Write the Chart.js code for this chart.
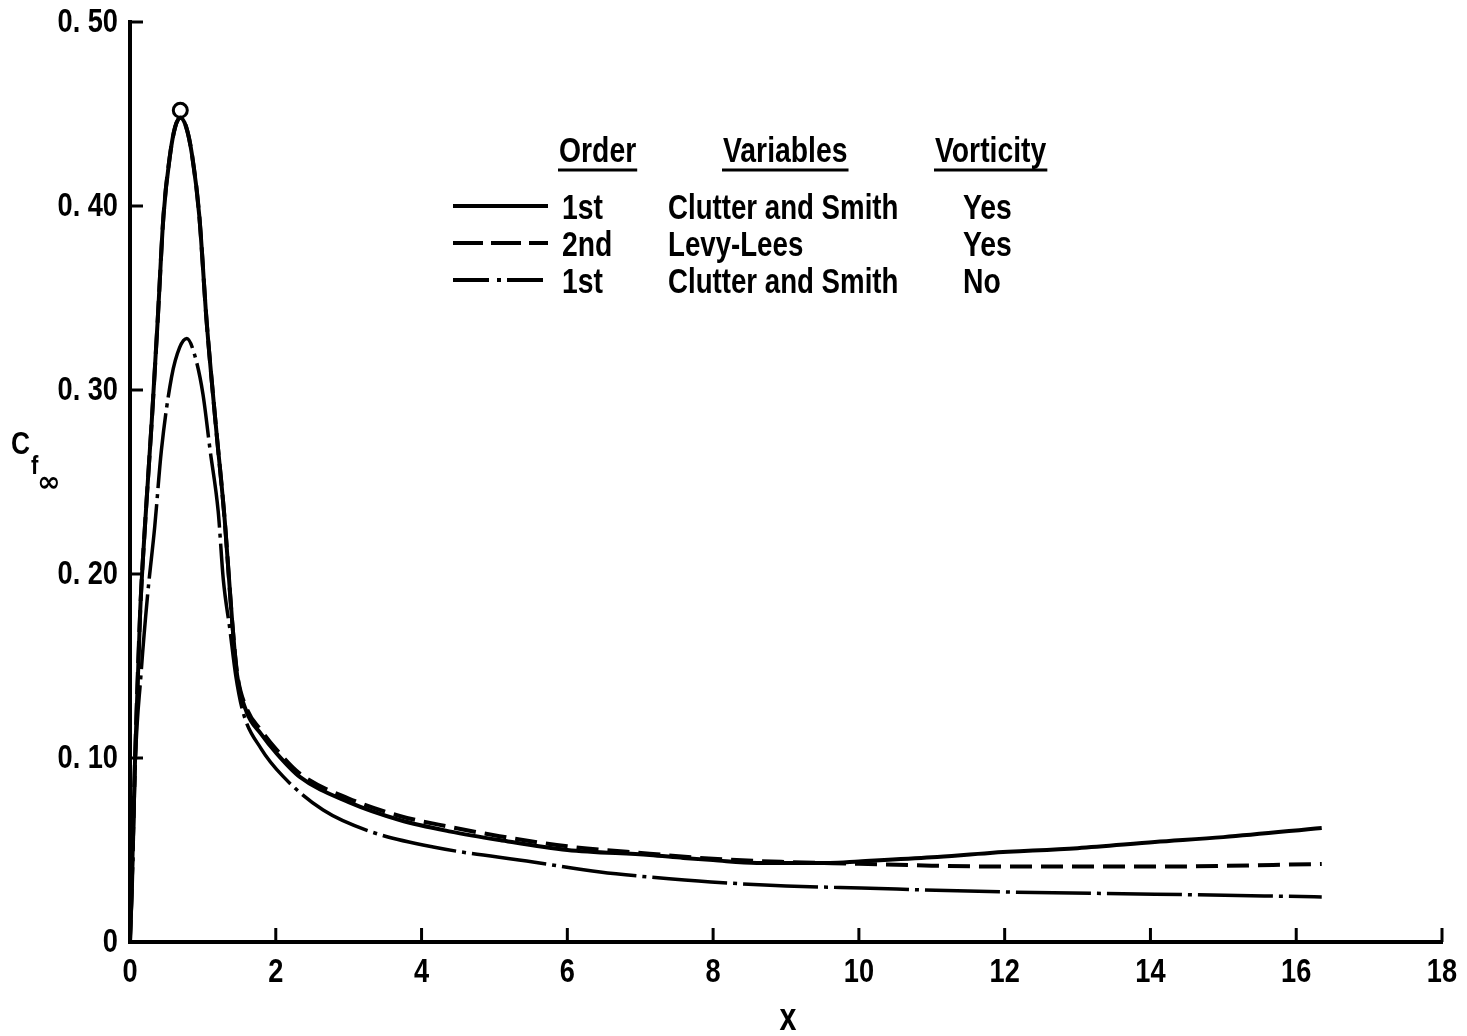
<!DOCTYPE html>
<html>
<head>
<meta charset="utf-8">
<script src="https://cdn.jsdelivr.net/npm/chart.js@4.4.0/dist/chart.umd.min.js"></script>
<style>
  body { margin: 0; background: #fff; }
</style>
</head>
<body>
<canvas id="chart" width="1467" height="1036"></canvas>
<script>
// x positions and skin-friction values
const xSolid = [0, 0.02, 0.07, 0.14, 0.21, 0.30, 0.38, 0.46, 0.55, 0.62, 0.69, 0.77, 0.85, 0.95, 1.05, 1.17, 1.30, 1.40, 1.47, 1.6, 1.8, 2.0, 2.33, 3.0, 3.7, 4.4, 5.07, 6.0, 7.13, 7.59, 8.0, 8.6, 9.6, 10.0, 11.0, 11.8, 13.0, 14.06, 15.0, 16.35];
const ySolid = [0, 0.025, 0.10, 0.18, 0.229, 0.284, 0.338, 0.395, 0.428, 0.443, 0.448, 0.443, 0.428, 0.395, 0.338, 0.284, 0.229, 0.175, 0.145, 0.125, 0.113, 0.103, 0.0897, 0.076, 0.0663, 0.060, 0.0554, 0.050, 0.0473, 0.0457, 0.0445, 0.043, 0.043, 0.0438, 0.046, 0.0484, 0.051, 0.0543, 0.057, 0.062];

const xDashed = [0, 0.02, 0.07, 0.14, 0.21, 0.30, 0.38, 0.46, 0.55, 0.62, 0.69, 0.77, 0.85, 0.95, 1.05, 1.17, 1.30, 1.40, 1.47, 1.6, 1.8, 2.0, 2.33, 3.0, 3.7, 4.4, 5.07, 6.0, 7.13, 8.0, 9.0, 10.0, 11.0, 12.0, 14.06, 16.35];
const yDashed = [0, 0.025, 0.10, 0.18, 0.229, 0.284, 0.338, 0.395, 0.428, 0.443, 0.448, 0.443, 0.428, 0.395, 0.338, 0.284, 0.229, 0.175, 0.146, 0.127, 0.115, 0.105, 0.0915, 0.078, 0.0685, 0.0625, 0.0575, 0.052, 0.048, 0.0452, 0.0435, 0.0425, 0.0415, 0.041, 0.041, 0.0424];

const xDashDot = [0, 0.03, 0.07, 0.15, 0.24, 0.34, 0.43, 0.57, 0.68, 0.78, 0.88, 1.0, 1.10, 1.21, 1.28, 1.37, 1.45, 1.55, 1.8, 2.1, 2.65, 3.3, 4.16, 5.53, 6.45, 7.13, 7.97, 9.0, 10.03, 12.0, 14.06, 16.35];
const yDashDot = [0, 0.03, 0.095, 0.145, 0.188, 0.226, 0.267, 0.307, 0.323, 0.328, 0.320, 0.298, 0.267, 0.234, 0.197, 0.170, 0.145, 0.125, 0.105, 0.09, 0.0717, 0.06, 0.0516, 0.0435, 0.038, 0.0353, 0.0326, 0.0305, 0.0293, 0.0272, 0.026, 0.0245];

// open circle at the top of the peak
const peakMarkX = [0.69];
const peakMarkY = [0.452];

const legendOrder = ["1st", "2nd", "1st"];
const legendVariables = ["Clutter and Smith", "Levy-Lees", "Clutter and Smith"];
const legendVorticity = ["Yes", "Yes", "No"];

const FONT = "'Liberation Sans', Arial, sans-serif";
const NARROW = 0.8; // the original lettering is condensed

const toPoints = (xs, ys) => xs.map((x, i) => ({ x: x, y: ys[i] }));

// draw horizontally squeezed bold text
function squeezed(ctx, text, x, y, size, align, sx) {
  ctx.save();
  ctx.font = "bold " + size + "px " + FONT;
  const w = ctx.measureText(text).width * sx;
  let left = x;
  if (align === "right") left = x - w;
  if (align === "center") left = x - w / 2;
  ctx.translate(left, y);
  ctx.scale(sx, 1);
  ctx.textAlign = "left";
  ctx.fillText(text, 0, 0);
  ctx.restore();
  return w;
}

const yLabel = (v) => (v === 0 ? "0" : "0. " + String(Math.round(v * 100)).padStart(2, "0"));

// inward ticks and tick labels, placed from the library's scales
const axisDecor = {
  id: "axisDecor",
  afterDraw(chart) {
    const ctx = chart.ctx;
    const xs = chart.scales.x;
    const ys = chart.scales.y;
    ctx.save();
    ctx.strokeStyle = "#000";
    ctx.fillStyle = "#000";
    ctx.lineWidth = 3;
    ctx.textBaseline = "middle";
    ys.ticks.forEach((t) => {
      const py = ys.getPixelForValue(t.value);
      if (t.value !== 0) {
        ctx.beginPath();
        ctx.moveTo(xs.left, py);
        ctx.lineTo(xs.left + 13, py);
        ctx.stroke();
      }
      squeezed(ctx, yLabel(t.value), 118, py + 1, 34, "right", NARROW);
    });
    xs.ticks.forEach((t) => {
      const px = xs.getPixelForValue(t.value);
      if (t.value !== 0) {
        ctx.beginPath();
        ctx.moveTo(px, ys.bottom);
        ctx.lineTo(px, ys.bottom - 14);
        ctx.stroke();
      }
      squeezed(ctx, String(t.value), px, 973, 34, "center", NARROW);
    });
    ctx.restore();
  },
};

// axis titles and the table-style legend
const annotations = {
  id: "annotations",
  afterDraw(chart) {
    const ctx = chart.ctx;
    ctx.save();
    ctx.fillStyle = "#000";
    ctx.strokeStyle = "#000";
    ctx.textBaseline = "alphabetic";

    // y title C_f∞
    squeezed(ctx, "C", 11, 454, 31, "left", 0.85);
    squeezed(ctx, "f", 31, 474, 26, "left", 0.85);
    ctx.font = "bold 28px 'DejaVu Sans', sans-serif";
    ctx.fillText("\u221E", 37, 491);

    // x title
    squeezed(ctx, "x", 788, 1030, 38, "center", NARROW);

    // legend headers
    const headers = [["Order", 559], ["Variables", 723], ["Vorticity", 935]];
    headers.forEach(([txt, hx]) => {
      const w = squeezed(ctx, txt, hx, 162, 35, "left", 0.81);
      ctx.lineWidth = 3;
      ctx.beginPath();
      ctx.moveTo(hx - 1, 170);
      ctx.lineTo(hx + w + 1, 170);
      ctx.stroke();
    });

    // legend rows
    const rowY = [206, 243, 280];
    const dashes = [[], [30, 8], [36, 8, 4, 6]];
    rowY.forEach((ry, i) => {
      ctx.lineWidth = 4;
      ctx.setLineDash(dashes[i]);
      ctx.beginPath();
      ctx.moveTo(453, ry);
      ctx.lineTo(548, ry);
      ctx.stroke();
      ctx.setLineDash([]);
      squeezed(ctx, legendOrder[i], 562, ry + 13, 35, "left", 0.81);
      squeezed(ctx, legendVariables[i], 668, ry + 13, 35, "left", 0.79);
      squeezed(ctx, legendVorticity[i], 963, ry + 13, 35, "left", 0.81);
    });
    ctx.restore();
  },
};

new Chart(document.getElementById("chart"), {
  type: "line",
  data: {
    datasets: [
      {
        label: "1st Clutter and Smith Yes",
        data: toPoints(xSolid, ySolid),
        borderColor: "#000",
        borderWidth: 4,
        pointRadius: 0,
        cubicInterpolationMode: "monotone",
      },
      {
        label: "2nd Levy-Lees Yes",
        data: toPoints(xDashed, yDashed),
        borderColor: "#000",
        borderWidth: 4,
        borderDash: [22, 9],
        pointRadius: 0,
        cubicInterpolationMode: "monotone",
      },
      {
        label: "1st Clutter and Smith No",
        data: toPoints(xDashDot, yDashDot),
        borderColor: "#000",
        borderWidth: 3.5,
        borderDash: [75, 6, 4, 6],
        pointRadius: 0,
        cubicInterpolationMode: "monotone",
      },
      {
        label: "peak",
        type: "scatter",
        data: toPoints(peakMarkX, peakMarkY),
        borderColor: "#000",
        backgroundColor: "#fff",
        borderWidth: 3,
        pointRadius: 7,
      },
    ],
  },
  options: {
    responsive: false,
    animation: false,
    layout: { padding: { top: 22, right: 25, left: 0, bottom: 0 } },
    plugins: {
      legend: { display: false },
      tooltip: { enabled: false },
    },
    scales: {
      x: {
        type: "linear",
        min: 0,
        max: 18,
        ticks: { stepSize: 2, display: false },
        grid: { display: false, drawTicks: false },
        border: { display: true, color: "#000", width: 4 },
        afterFit(scale) {
          scale.height = 94;
        },
      },
      y: {
        type: "linear",
        min: 0,
        max: 0.5,
        ticks: { stepSize: 0.1, display: false },
        grid: { display: false, drawTicks: false },
        border: { display: true, color: "#000", width: 4 },
        afterFit(scale) {
          scale.width = 130;
        },
      },
    },
  },
  plugins: [axisDecor, annotations],
});
</script>
</body>
</html>
